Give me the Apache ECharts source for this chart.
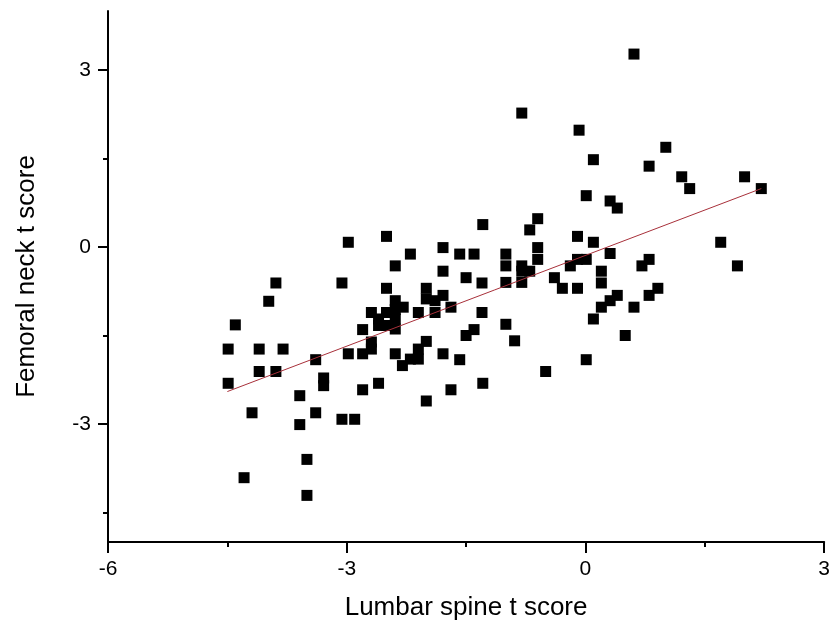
<!DOCTYPE html>
<html>
<head>
<meta charset="utf-8">
<script src="https://cdn.jsdelivr.net/npm/echarts@6/dist/echarts.min.js"></script>
<style>html,body{margin:0;padding:0;background:#fff}#c{width:833px;height:626px}</style>
</head>
<body>
<div id="c"></div>
<script>
// Lumbar spine t score (x) values
var lumbarX = [
  0.61,-0.80,-0.08,0.10,1.01,0.80,1.21,1.31,2.00,2.21,
  0.01,0.31,0.40,-1.29,-0.60,-0.70,-0.10,0.10,1.70,-2.98,
  -2.50,-2.20,-2.39,-1.79,-1.58,-1.40,-1.00,-1.00,-0.60,-0.60,
  -0.80,-0.70,-0.80,-1.79,-1.50,-0.39,-0.19,-0.10,0.01,0.31,
  0.80,0.71,1.91,0.20,0.20,-0.10,-0.29,-0.80,-1.00,-1.30,
  -3.06,-2.50,-2.00,0.40,0.31,0.20,0.61,0.91,0.80,0.10,
  0.50,0.01,-0.50,-1.30,-1.00,-1.40,-1.50,-0.89,-2.39,-2.29,
  -2.39,-2.69,-2.50,-2.60,-2.39,-2.50,-2.60,-2.39,-2.10,-2.00,
  -1.89,-1.79,-1.69,-1.89,-2.80,-2.69,-2.69,-2.00,-2.10,-2.10,
  -2.20,-2.30,-2.98,-2.80,-2.39,-1.79,-1.58,-2.60,-2.80,-1.69,
  -1.29,-2.00,-3.06,-2.90,-3.89,-3.98,-4.40,-4.49,-4.10,-3.80,
  -4.10,-3.89,-3.39,-3.29,-3.29,-4.49,-3.59,-4.19,-3.39,-3.59,
  -3.50,-4.29,-3.50
];
// Femoral neck t score (y) values
var femoralY = [
  3.27,2.27,1.98,1.48,1.69,1.37,1.19,0.99,1.19,0.99,
  0.87,0.78,0.66,0.38,0.48,0.29,0.18,0.08,0.08,0.08,
  0.18,-0.12,-0.32,-0.01,-0.12,-0.12,-0.12,-0.32,-0.01,-0.21,
  -0.32,-0.41,-0.41,-0.41,-0.52,-0.52,-0.32,-0.21,-0.21,-0.11,
  -0.21,-0.32,-0.32,-0.41,-0.61,-0.70,-0.70,-0.60,-0.60,-0.61,
  -0.61,-0.70,-0.70,-0.82,-0.91,-1.02,-1.02,-0.70,-0.82,-1.22,
  -1.50,-1.91,-2.11,-1.11,-1.31,-1.40,-1.50,-1.59,-0.91,-1.02,
  -1.06,-1.11,-1.11,-1.22,-1.22,-1.33,-1.33,-1.39,-1.11,-0.88,
  -0.91,-0.82,-1.02,-1.11,-1.40,-1.61,-1.73,-1.60,-1.73,-1.90,
  -1.90,-2.01,-1.81,-1.81,-1.81,-1.81,-1.91,-2.31,-2.42,-2.42,
  -2.31,-2.61,-2.92,-2.92,-0.61,-0.92,-1.32,-1.73,-1.73,-1.73,
  -2.11,-2.11,-1.91,-2.22,-2.35,-2.31,-2.52,-2.81,-2.81,-3.01,
  -3.60,-3.91,-4.21
];
// Fitted line endpoints
var fitX = [-4.5, 2.21];
var fitY = [-2.45, 0.99];
// Axis ticks
var xTicks = [-6, -3, 0, 3];
var yTicks = [-3, 0, 3];
var yMinorTicks = [-4.5, -1.5, 1.5];
var yRange = [-5, 4];

var pts = lumbarX.map(function (x, i) { return [x, femoralY[i]]; });
var fit = fitX.map(function (x, i) { return [x, fitY[i]]; });

var FONT = 'Liberation Sans, Arial, sans-serif';
var chart = echarts.init(document.getElementById('c'));
chart.setOption({
  animation: false,
  backgroundColor: '#fff',
  grid: { left: 108, right: 5, top: 11, bottom: 83 },
  xAxis: {
    type: 'value', min: xTicks[0], max: xTicks[xTicks.length - 1], interval: 3,
    axisLine: { show: true, onZero: false, lineStyle: { color: '#000', width: 2 } },
    axisTick: { show: true, inside: false, length: 11, lineStyle: { color: '#000', width: 2 } },
    minorTick: { show: true, splitNumber: 2, length: 5, lineStyle: { color: '#000', width: 2 } },
    splitLine: { show: false },
    name: 'Lumbar spine t score', nameLocation: 'middle', nameGap: 53,
    nameTextStyle: { fontFamily: FONT, fontSize: 26, color: '#000' },
    axisLabel: { margin: 17, fontFamily: FONT, fontSize: 21, color: '#000' }
  },
  yAxis: [{
    type: 'value', min: yRange[0], max: yRange[1],
    axisLine: { show: true, onZero: false, lineStyle: { color: '#000', width: 2 } },
    axisTick: { show: true, inside: false, length: 10, customValues: yTicks, lineStyle: { color: '#000', width: 2 } },
    splitLine: { show: false },
    name: 'Femoral neck t score', nameLocation: 'middle', nameGap: 68,
    nameTextStyle: { fontFamily: FONT, fontSize: 26, color: '#000' },
    axisLabel: { margin: 17, fontFamily: FONT, fontSize: 21, color: '#000', customValues: yTicks }
  }, {
    type: 'value', min: yRange[0], max: yRange[1], position: 'left', offset: 0,
    axisLine: { show: false, onZero: false },
    axisTick: { show: true, inside: false, length: 5, customValues: yMinorTicks, lineStyle: { color: '#000', width: 2 } },
    axisLabel: { show: false },
    splitLine: { show: false }
  }],
  series: [
    { type: 'scatter', data: pts, symbol: 'rect', symbolSize: 11,
      itemStyle: { color: '#000', opacity: 1 }, z: 3 },
    { type: 'line', data: fit, symbol: 'none', lineStyle: { color: '#a8303a', width: 1 }, z: 4 }
  ]
});
</script>
</body>
</html>
